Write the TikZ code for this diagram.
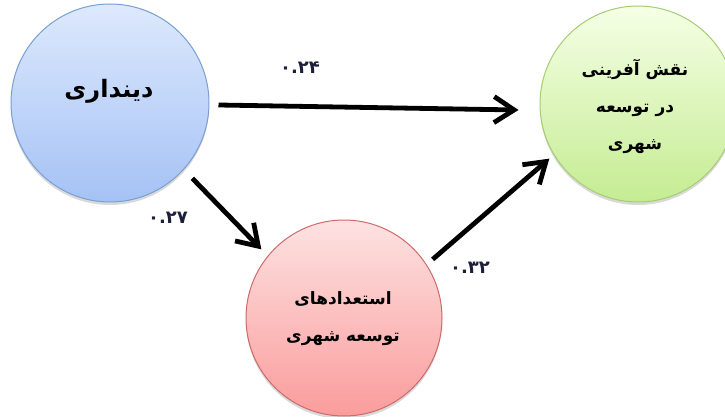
\documentclass[tikz,border=0pt]{standalone}
\usepackage{fontspec}
\newfontfamily\arabicfont[Script=Arabic]{DejaVu Sans}
\TeXXeTstate=1
\usetikzlibrary{arrows.meta,shadows,calc}
\definecolor{bluetop}{HTML}{DDE9FC}
\definecolor{bluebot}{HTML}{A5C2F5}
\definecolor{blueline}{HTML}{7A9FD2}
\definecolor{redtop}{HTML}{FDE2E2}
\definecolor{redbot}{HTML}{FB9C9C}
\definecolor{redline}{HTML}{CC6A6A}
\definecolor{greentop}{HTML}{F5FFE6}
\definecolor{greenbot}{HTML}{C5EC92}
\definecolor{greenline}{HTML}{A6CC72}
\definecolor{numcol}{HTML}{1B1F3A}
\tikzset{
  bubble/.style={circle, inner sep=0pt, minimum size=#1, line width=1pt,
    drop shadow={shadow xshift=0pt, shadow yshift=-3pt, opacity=0.3}},
  bluebubble/.style={bubble=198pt, draw=blueline, top color=bluetop, bottom color=bluebot},
  redbubble/.style={bubble=196pt, draw=redline, top color=redtop, bottom color=redbot},
  greenbubble/.style={bubble=196pt, draw=greenline, top color=greentop, bottom color=greenbot},
  labeltext/.style={font=\arabicfont\bfseries\fontsize{17}{37}\selectfont, align=center, text=black},
  bigtext/.style={font=\arabicfont\bfseries\fontsize{24}{30}\selectfont, text=black},
  coef/.style={font=\arabicfont\bfseries\fontsize{18}{20}\selectfont, text=numcol},
  path arrow/.style={line width=4.8pt, -{Straight Barb[length=20pt,width=26pt]}}
}
\begin{document}
\begin{tikzpicture}[x=1pt,y=-1pt]
\useasboundingbox (0,0) rectangle (725,417);
\node[bluebubble] (din) at (110,103) {};
\node[greenbubble] (naqsh) at (638,104) {};
\node[redbubble] (estedad) at (344,318) {};

\node[bigtext] (dintext) at (109,91) {\beginR دینداری\endR};
\node[labeltext] (naqshtext) at (635,106) {\beginR نقش آفرینی\endR\\ \beginR در توسعه\endR\\ \beginR شهری\endR};
\node[labeltext] (estedadtext) at (343,319) {\beginR استعدادهای\endR\\ \beginR توسعه شهری\endR};

\draw[path arrow] ($(din.east)+(9,2)$) -- ($(naqsh.west)+(-21,6)$);
\draw[path arrow] ($(din.south east)+(12,5)$) -- ($(estedad.north west)+(-13,1)$);
\draw[path arrow] ($(estedad.north east)+(19,11)$) -- ($(naqsh.south west)+(-19,-15)$);

\node[coef] (c1) at (300,68) {۰.۲۴};
\node[coef] (c2) at (168,218) {۰.۲۷};
\node[coef] (c3) at (470,268) {۰.۳۲};
\end{tikzpicture}
\end{document}
